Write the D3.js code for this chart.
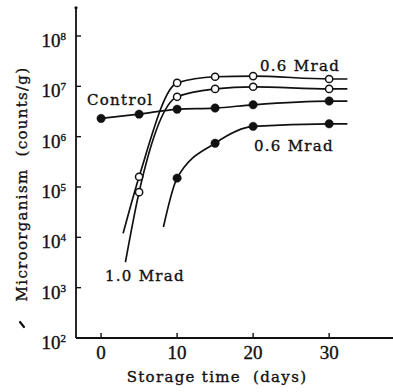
<!DOCTYPE html>
<html>
<head>
<meta charset="utf-8">
<script src="https://cdn.jsdelivr.net/npm/d3@7"></script>
<style>
  body { margin: 0; background: #fff; }
  svg { display: block; }
  text { font-family: 'DejaVu Serif', 'Liberation Serif', serif; fill: #111; stroke: #111; stroke-width: 0.35px; }
</style>
</head>
<body>
<div id="chart"></div>
<script>
// storage days for the sampled points
const days = [0, 5, 10, 15, 20, 30]
const lateDays = [10, 15, 20, 30]
const openDays = [5, 10, 15, 20, 30]

// counts per gram
const control = [2.3e6, 2.8e6, 3.5e6, 3.7e6, 4.3e6, 5.1e6]
const open06 = [1.6e5, 1.17e7, 1.55e7, 1.6e7, 1.4e7]
const open10 = [7.9e4, 6.2e6, 8.9e6, 9.8e6, 8.9e6]
const filled06 = [1.5e5, 7.4e5, 1.6e6, 1.8e6]

// where the hand drawn curves begin and end
const open06Start = [2.9, 1.2e4]
const open10Start = [3.2, 3.2e3]
const filled06Start = [8.2, 1.6e4]
const curveEnd = 32.4

const xTicks = [0, 10, 20, 30]
const yTicks = [2, 3, 4, 5, 6, 7, 8]

const width = 393
const height = 392

const svg = d3.select('#chart').append('svg')
  .attr('width', width)
  .attr('height', height)

const x = d3.scaleLinear().domain([-3.3, 38.4]).range([76, 393])
const y = d3.scaleLog().domain([1e2, 1e8]).range([338, 36])

// axes
svg.append('line')
  .attr('x1', x(-3.3)).attr('x2', x(38.4))
  .attr('y1', y(1e2)).attr('y2', y(1e2))
  .attr('stroke', '#111').attr('stroke-width', 1.8)
svg.append('line')
  .attr('x1', x(-3.3)).attr('x2', x(-3.3))
  .attr('y1', y(1e2)).attr('y2', y(Math.pow(10, 8.56)))
  .attr('stroke', '#111').attr('stroke-width', 1.8)
svg.append('circle')
  .attr('cx', x(-3.3)).attr('cy', y(Math.pow(10, 8.56)))
  .attr('r', 1.6).attr('fill', '#111')

svg.selectAll('.xtick').data(xTicks).join('line')
  .attr('class', 'xtick')
  .attr('x1', d => x(d)).attr('x2', d => x(d))
  .attr('y1', y(1e2)).attr('y2', y(1e2) - 5)
  .attr('stroke', '#111').attr('stroke-width', 1.4)
svg.selectAll('.xlab').data(xTicks).join('text')
  .attr('class', 'xlab')
  .attr('x', d => x(d)).attr('y', y(1e2) + 21)
  .attr('text-anchor', 'middle')
  .style('font-family', "'Liberation Serif', serif")
  .style('font-size', '19px')
  .text(d => d)

svg.selectAll('.ytick').data(yTicks.filter(d => d > 2)).join('line')
  .attr('class', 'ytick')
  .attr('x1', x(-3.3)).attr('x2', x(-3.3) + 5)
  .attr('y1', d => y(Math.pow(10, d))).attr('y2', d => y(Math.pow(10, d)))
  .attr('stroke', '#111').attr('stroke-width', 1.4)

const ylab = svg.selectAll('.ylab').data(yTicks).join('text')
  .attr('class', 'ylab')
  .attr('x', 66).attr('y', d => y(Math.pow(10, d)) + 11)
  .attr('text-anchor', 'end')
  .style('font-family', "'Liberation Serif', serif")
  .style('font-size', '19px')
ylab.append('tspan').text('10')
ylab.append('tspan')
  .attr('dy', -7)
  .style('font-size', '11px')
  .text(d => d)

// axis titles
svg.append('text')
  .attr('x', 217).attr('y', 382)
  .attr('text-anchor', 'middle')
  .style('font-size', '15px')
  .style('letter-spacing', '1.3px')
  .attr('xml:space', 'preserve')
  .text('Storage time  (days)')

svg.append('text')
  .attr('transform', 'translate(27,184) rotate(-90)')
  .attr('text-anchor', 'middle')
  .style('font-size', '15px')
  .style('letter-spacing', '1.3px')
  .attr('xml:space', 'preserve')
  .text('Microorganism  (counts/g)')

// stray mark near the axis title
svg.append('line')
  .attr('x1', 20).attr('y1', 322).attr('x2', 24).attr('y2', 327)
  .attr('stroke', '#111').attr('stroke-width', 2.2).attr('stroke-linecap', 'round')

// curves
const line = d3.line()
  .x(d => x(d[0]))
  .y(d => y(d[1]))
  .curve(d3.curveMonotoneX)

function pair(ds, vs) {
  return ds.map((d, i) => [d, vs[i]])
}

const curves = [
  pair(days, control).concat([[curveEnd, control[control.length - 1]]]),
  [open06Start].concat(pair(openDays, open06), [[curveEnd, open06[open06.length - 1]]]),
  [open10Start].concat(pair(openDays, open10), [[curveEnd, open10[open10.length - 1]]]),
  [filled06Start].concat(pair(lateDays, filled06), [[curveEnd, filled06[filled06.length - 1]]])
]

svg.selectAll('.curve').data(curves).join('path')
  .attr('class', 'curve')
  .attr('d', line)
  .attr('fill', 'none')
  .attr('stroke', '#111')
  .attr('stroke-width', 1.7)

// markers
const markers = [
  { pts: pair(days, control), open: false },
  { pts: pair(lateDays, filled06), open: false },
  { pts: pair(openDays, open06), open: true },
  { pts: pair(openDays, open10), open: true }
]

markers.forEach(s => {
  svg.append('g').selectAll('circle').data(s.pts).join('circle')
    .attr('cx', d => x(d[0]))
    .attr('cy', d => y(d[1]))
    .attr('r', s.open ? 3.6 : 4.2)
    .attr('fill', s.open ? '#fff' : '#111')
    .attr('stroke', '#111')
    .attr('stroke-width', s.open ? 1.5 : 0.5)
})

// series labels
const labels = [
  { text: 'Control', day: -1.85, value: Math.pow(10, 6.63) },
  { text: '0.6 Mrad', day: 20.9, value: Math.pow(10, 7.3) },
  { text: '0.6 Mrad', day: 20.1, value: Math.pow(10, 5.72) },
  { text: '1.0 Mrad', day: 0.5, value: Math.pow(10, 3.13) }
]

svg.selectAll('.slab').data(labels).join('text')
  .attr('class', 'slab')
  .attr('x', d => x(d.day))
  .attr('y', d => y(d.value))
  .style('font-size', '15px')
  .style('letter-spacing', '1.3px')
  .text(d => d.text)
</script>
</body>
</html>
